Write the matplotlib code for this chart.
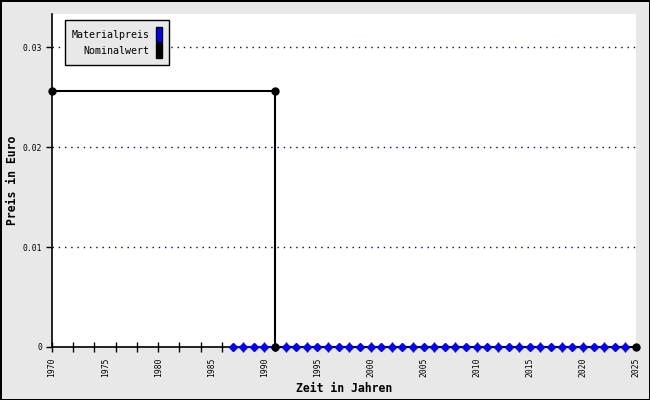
import numpy as np
import matplotlib

matplotlib.use("Agg")
import matplotlib.pyplot as plt
from matplotlib.patches import Patch

# Nominalwert (step from 1970 to 1991, then zero to 2025)
nominal_years = [1970, 1991, 1991, 2025]
nominal_values = [0.02556, 0.02556, 0.0, 0.0]

# Materialpreis, one point per year
material_years = list(range(1987, 2025))
material_values = [0.0] * len(material_years)

x_tick_labels = [1970, 1975, 1980, 1985, 1990, 1995, 2000, 2005, 2010, 2015, 2020, 2025]
y_ticks = [0, 0.01, 0.02, 0.03]
y_tick_labels = ["0", "0.01", "0.02", "0.03"]

plt.rcParams["font.family"] = ["DejaVu Sans Mono"]

fig = plt.figure(figsize=(6.5, 4.0), dpi=100, facecolor="#e8e8e8",
                 edgecolor="black", linewidth=2)
ax = fig.add_axes([52 / 650, 1 - 347 / 400, 584 / 650, 333 / 400])
ax.set_facecolor("white")

# Blue line underneath, black line over it, blue markers on top
ax.plot(material_years, material_values, color="#0000ff", linewidth=1.5,
        zorder=3, clip_on=False)
ax.plot(nominal_years, nominal_values, color="black", linewidth=1.5, zorder=4,
        clip_on=False)
ax.plot(material_years, material_values, linestyle="none", marker="D",
        markersize=4.5, color="#0000ff", zorder=5, clip_on=False)
ax.plot(nominal_years, nominal_values, linestyle="none", marker="o",
        markersize=5, color="black", zorder=6, clip_on=False)

ax.set_xlim(1970, 2025)
ax.set_ylim(0, 0.0333)

ax.xaxis.remove_overlapping_locs = False
ax.set_xticks(x_tick_labels)
ax.set_xticklabels([str(y) for y in x_tick_labels], rotation=90, fontsize=5.8)
ax.set_xticks(np.arange(1970, 2026, 2), minor=True)
ax.tick_params(axis="x", which="major", length=0, pad=7.5)
ax.tick_params(axis="x", which="minor", direction="inout", length=7, width=1)

ax.set_yticks(y_ticks)
ax.set_yticklabels(y_tick_labels, fontsize=5.8)
ax.tick_params(axis="y", direction="out", length=4.3, width=1, pad=2.9)

ax.grid(True, axis="y", linestyle=(0, (1, 3.5)), color="#000080", linewidth=1)
ax.set_axisbelow(True)

for side in ["top", "right"]:
    ax.spines[side].set_visible(False)
for side in ["left", "bottom"]:
    ax.spines[side].set_linewidth(1.2)

ax.set_xlabel("Zeit in Jahren", fontsize=8.3, fontweight="bold", labelpad=4)
ax.set_ylabel("Preis in Euro", fontsize=8.3, fontweight="bold")
ax.yaxis.set_label_coords(-0.056, 0.5)

handles = [Patch(facecolor="#0000ff", edgecolor="black"),
           Patch(facecolor="black", edgecolor="black")]
leg = ax.legend(handles, ["Materialpreis", "Nominalwert"], loc="upper left",
                bbox_to_anchor=(0.022, 0.982), borderaxespad=0,
                markerfirst=False, fontsize=7.2,
                handlelength=0.6, handleheight=1.9, handletextpad=0.6,
                labelspacing=0.15, borderpad=0.7, fancybox=False,
                framealpha=1, facecolor="#e8e8e8", edgecolor="black")
leg.get_frame().set_linewidth(1)
for t in leg.get_texts():
    t.set_ha("right")

fig.savefig("out.png", dpi=100, facecolor=fig.get_facecolor(),
            edgecolor=fig.get_edgecolor())
